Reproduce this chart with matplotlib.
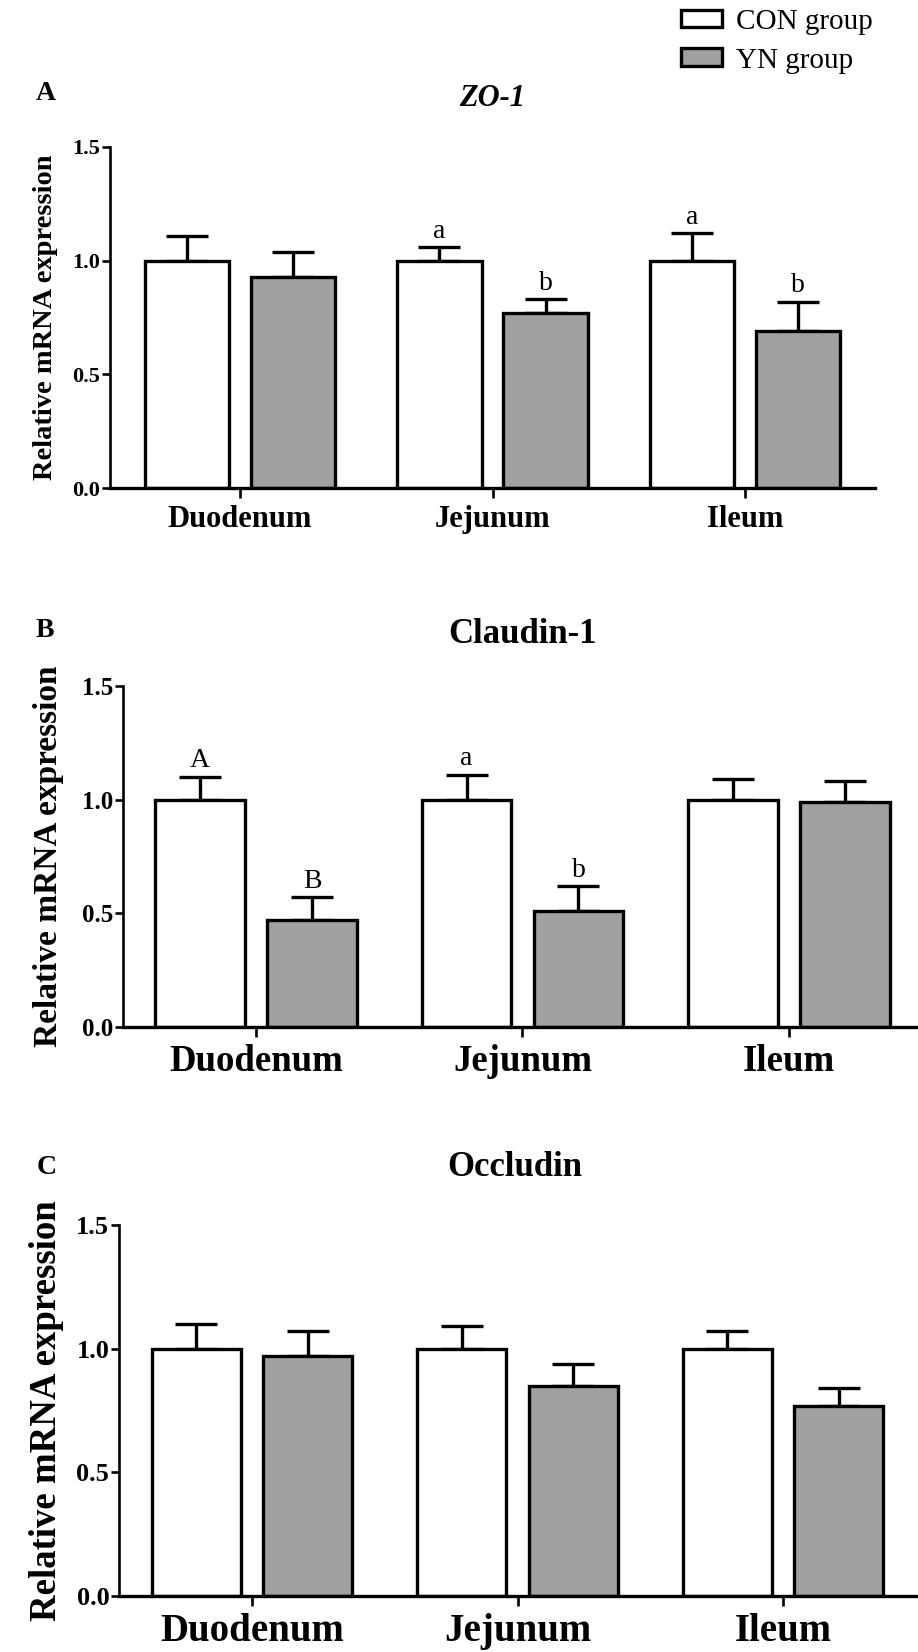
import matplotlib
matplotlib.use("Agg")
import matplotlib.pyplot as plt
from matplotlib.patches import Patch
import numpy as np

plt.rcParams['font.family'] = ['Liberation Serif', 'DejaVu Serif']

# ---- data -------------------------------------------------------------
regions = ['Duodenum', 'Jejunum', 'Ileum']

zo1_con = [1.00, 1.00, 1.00]
zo1_con_err = [0.11, 0.06, 0.12]
zo1_yn = [0.93, 0.77, 0.69]
zo1_yn_err = [0.11, 0.06, 0.13]
zo1_con_sig = ['', 'a', 'a']
zo1_yn_sig = ['', 'b', 'b']

cld_con = [1.00, 1.00, 1.00]
cld_con_err = [0.10, 0.11, 0.09]
cld_yn = [0.47, 0.51, 0.99]
cld_yn_err = [0.10, 0.11, 0.09]
cld_con_sig = ['A', 'a', '']
cld_yn_sig = ['B', 'b', '']

occ_con = [1.00, 1.00, 1.00]
occ_con_err = [0.10, 0.09, 0.07]
occ_yn = [0.97, 0.85, 0.77]
occ_yn_err = [0.10, 0.09, 0.07]
occ_con_sig = ['', '', '']
occ_yn_sig = ['', '', '']

yticks = [0.0, 0.5, 1.0, 1.5]
ytick_labels = ['0.0', '0.5', '1.0', '1.5']

# ---- styling ----------------------------------------------------------
W, H = 918, 1652
CON_COLOR = 'white'
YN_COLOR = '#a0a0a0'
LW = 2.4
BAR_W = 0.335
OFF = 0.21

fig = plt.figure(figsize=(W / 100, H / 100), dpi=100)


def rect(left, right, bottom, top):
    return [left / W, 1 - bottom / H, (right - left) / W, (bottom - top) / H]


panels = [
    dict(rect=rect(110, 875, 488, 147), xlim=(-0.515, 2.515),
         con=zo1_con, con_err=zo1_con_err, yn=zo1_yn, yn_err=zo1_yn_err,
         con_sig=zo1_con_sig, yn_sig=zo1_yn_sig,
         title='ZO-1', title_style='italic', title_xy=(492, 99),
         tag='A', tag_xy=(46, 93), ylabel_right=58,
         ytick_fs=16, xtick_fs=22, ylabel_fs=20.5, title_fs=22, sig_fs=20),
    dict(rect=rect(123, 918, 1027, 686), xlim=(-0.499, 2.484),
         con=cld_con, con_err=cld_con_err, yn=cld_yn, yn_err=cld_yn_err,
         con_sig=cld_con_sig, yn_sig=cld_yn_sig,
         title='Claudin-1', title_style='normal', title_xy=(522, 635),
         tag='B', tag_xy=(45, 631), ylabel_right=64,
         ytick_fs=18, xtick_fs=26.5, ylabel_fs=24, title_fs=25, sig_fs=20),
    dict(rect=rect(119, 918, 1596, 1225), xlim=(-0.501, 2.508),
         con=occ_con, con_err=occ_con_err, yn=occ_yn, yn_err=occ_yn_err,
         con_sig=occ_con_sig, yn_sig=occ_yn_sig,
         title='Occludin', title_style='normal', title_xy=(515, 1167),
         tag='C', tag_xy=(47, 1168), ylabel_right=64,
         ytick_fs=19, xtick_fs=28, ylabel_fs=26.5, title_fs=25, sig_fs=20),
]

x = np.arange(len(regions))

for p in panels:
    ax = fig.add_axes(p['rect'])
    for vals, errs, sigs, pos, color in (
        (p['con'], p['con_err'], p['con_sig'], x - OFF, CON_COLOR),
        (p['yn'], p['yn_err'], p['yn_sig'], x + OFF, YN_COLOR),
    ):
        ax.errorbar(pos, vals, yerr=[np.zeros(len(vals)), errs], fmt='none',
                    ecolor='black', elinewidth=LW, capsize=15,
                    capthick=LW, zorder=1)
        ax.bar(pos, vals, width=BAR_W, color=color, edgecolor='black',
               linewidth=LW, zorder=2)
        for xi, v, e, s in zip(pos, vals, errs, sigs):
            if s:
                ax.annotate(s, (xi, v + e), xytext=(0, 2.5),
                            textcoords='offset points', ha='center',
                            va='bottom', fontsize=p['sig_fs'])

    ax.set_xlim(*p['xlim'])
    ax.set_ylim(0, 1.5)
    ax.set_yticks(yticks)
    ax.set_yticklabels(ytick_labels, fontsize=p['ytick_fs'],
                       fontweight='bold')
    ax.set_xticks(x)
    ax.set_xticklabels(regions, fontsize=p['xtick_fs'], fontweight='bold')
    ax.spines['top'].set_visible(False)
    ax.spines['right'].set_visible(False)
    ax.spines['left'].set_linewidth(1.9)
    ax.spines['bottom'].set_linewidth(2.4)
    ax.tick_params(axis='y', direction='out', length=5.5, width=1.9, pad=1.5)
    ax.tick_params(axis='x', direction='out', length=7, width=1.9, pad=5)
    ax.set_ylabel('Relative mRNA expression', fontsize=p['ylabel_fs'],
                  fontweight='bold')
    # y label anchored at a fixed horizontal position in the figure
    bbox = ax.get_position()
    ax.yaxis.set_label_coords((p['ylabel_right'] / W - bbox.x0) / bbox.width,
                              0.5)

    fig.text(p['title_xy'][0] / W, 1 - p['title_xy'][1] / H, p['title'],
             ha='center', va='center', fontsize=p['title_fs'],
             fontweight='bold', fontstyle=p['title_style'])
    fig.text(p['tag_xy'][0] / W, 1 - p['tag_xy'][1] / H, p['tag'],
             ha='center', va='center', fontsize=20, fontweight='bold')

handles = [Patch(facecolor=CON_COLOR, edgecolor='black', linewidth=LW),
           Patch(facecolor=YN_COLOR, edgecolor='black', linewidth=LW)]
fig.legend(handles, ['CON group', 'YN group'], loc='upper left',
           bbox_to_anchor=(681 / W, 1 - 9 / H), frameon=False, fontsize=21,
           handlelength=1.4, handleheight=0.55, handletextpad=0.48,
           labelspacing=0.43, borderpad=0, borderaxespad=0)

fig.savefig('out.png', dpi=100)
